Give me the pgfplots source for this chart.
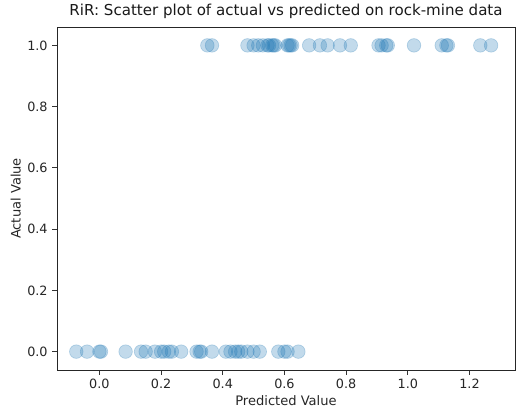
\documentclass[border=0pt]{standalone}
\usepackage{pgfplots}
\pgfplotsset{compat=1.18}
\usepackage{fontspec}
\setmainfont{DejaVu Sans}
\definecolor{c0}{HTML}{1F77B4}
\begin{document}
\begin{tikzpicture}
\useasboundingbox (-42.75pt,-33.75pt) rectangle (353.25pt,277.5pt);
\begin{axis}[
  scale only axis,
  width=343.5pt, height=257.25pt,
  at={(0pt,0pt)}, anchor=south west,
  xmin=-0.1375, xmax=1.3475,
  ymin=-0.06, ymax=1.06,
  xtick={0,0.2,...,1.2},
  ytick={0,0.2,...,1.0},
  tick align=outside,
  xtick pos=left, ytick pos=left,
  major tick length=3.5pt,
  tick style={black!80, line width=0.6pt},
  axis line style={black!85, line width=0.6pt},
  /pgf/number format/assume math mode=true,
  /pgf/number format/.cd, fixed, fixed zerofill, precision=1,
  /pgfplots/.cd,
  ticklabel style={font=\fontsize{9.6}{11}\selectfont, text=black!85},
  xlabel={Predicted Value}, ylabel={Actual Value},
  label style={font=\fontsize{9.8}{11}\selectfont, text=black!85},
  xlabel style={yshift=2pt},
  ylabel style={yshift=-2pt},
  title={RiR: Scatter plot of actual vs predicted on rock-mine data},
  title style={font=\fontsize{11.3}{13}\selectfont, text=black!90, yshift=-3pt},
]
\addplot[only marks, mark=*, mark size=5.1pt, draw=c0, fill=c0,
  mark options={draw=c0, fill=c0, fill opacity=0.27, draw opacity=0.27, line width=0.5pt}] coordinates {
(0.35,1) (0.365,1) (0.48,1) (0.50,1) (0.515,1) (0.53,1) (0.545,1) (0.55,1) (0.56,1) (0.565,1) (0.57,1) (0.61,1) (0.615,1) (0.62,1) (0.625,1) (0.68,1) (0.715,1) (0.74,1) (0.78,1) (0.815,1) (0.905,1) (0.915,1) (0.93,1) (0.935,1) (1.02,1) (1.11,1) (1.125,1) (1.13,1) (1.235,1) (1.27,1)
(-0.075,0) (-0.04,0) (0.0,0) (0.005,0) (0.085,0) (0.135,0) (0.15,0) (0.18,0) (0.2,0) (0.21,0) (0.225,0) (0.235,0) (0.265,0) (0.315,0) (0.325,0) (0.33,0) (0.365,0) (0.41,0) (0.425,0) (0.44,0) (0.45,0) (0.46,0) (0.48,0) (0.5,0) (0.52,0) (0.58,0) (0.6,0) (0.61,0) (0.645,0)
};
\end{axis}
\end{tikzpicture}
\end{document}
